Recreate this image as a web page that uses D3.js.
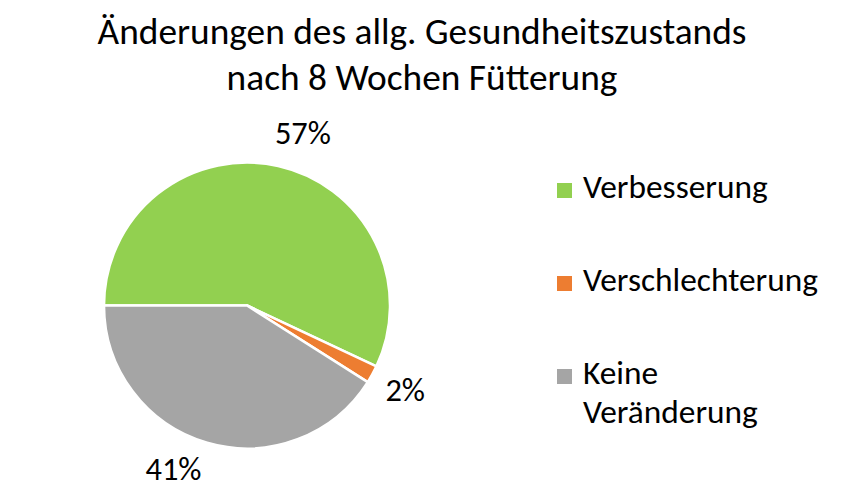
<!DOCTYPE html>
<html>
<head>
<meta charset="utf-8">
<script src="https://cdn.jsdelivr.net/npm/d3@7"></script>
<style>
  html, body { margin: 0; padding: 0; background: #fff; }
  svg { display: block; }
  text { font-family: Calibri, Carlito, Lato, sans-serif; fill: #000; }
</style>
</head>
<body>
<svg id="chart" width="841" height="494"></svg>
<script>
// ---- data ----
const categories = ["Verbesserung", "Verschlechterung", "Keine Veränderung"];
const values = [57, 2, 41];
const legendLines = [["Verbesserung"], ["Verschlechterung"], ["Keine", "Veränderung"]];
const titleLines = ["Änderungen des allg. Gesundheitszustands", "nach 8 Wochen Fütterung"];

// ---- style ----
const colors = ["#92D050", "#ED7D31", "#A5A5A5"];
const labelAngleNudge = [5.5, -0.3, 7.9]; // degrees

const W = 841, H = 494;
const svg = d3.select("#chart");

// fit a font size so that text width matches a target width
function fitSize(str, target) {
  const t = svg.append("text").attr("font-size", 100).text(str);
  const w = t.node().getComputedTextLength();
  t.remove();
  return 100 * target / w;
}

// title
const titleSize = fitSize(titleLines[0], 649);
const title = svg.append("g");
title.selectAll("text").data(titleLines).join("text")
  .attr("x", 422)
  .attr("y", (d, i) => 44 + i * 46)
  .attr("text-anchor", "middle")
  .attr("font-size", titleSize)
  .text(d => d);

// pie
const cx = 247, cy = 305.5, r = 143;
const pie = d3.pie().sort(null).value(d => d)
  .startAngle(-Math.PI / 2).endAngle(1.5 * Math.PI);
const arcs = pie(values);
const arc = d3.arc().innerRadius(0).outerRadius(r);
const g = svg.append("g").attr("transform", `translate(${cx},${cy})`);
g.selectAll("path").data(arcs).join("path")
  .attr("d", arc)
  .attr("fill", (d, i) => colors[i])
  .attr("stroke", "#fff")
  .attr("stroke-width", 2.5)
  .attr("stroke-linejoin", "round");

// data labels
const labelSize = fitSize("57%", 56);
const labelR = r + 37;
g.selectAll("text.lbl").data(arcs).join("text")
  .attr("class", "lbl")
  .attr("text-anchor", "middle")
  .attr("font-size", labelSize)
  .attr("x", (d, i) => {
    const a = (d.startAngle + d.endAngle) / 2 + labelAngleNudge[i] * Math.PI / 180;
    return labelR * Math.sin(a);
  })
  .attr("y", (d, i) => {
    const a = (d.startAngle + d.endAngle) / 2 + labelAngleNudge[i] * Math.PI / 180;
    return -labelR * Math.cos(a) + 10;
  })
  .text(d => d3.format(".0%")(d.value / d3.sum(values)));

// legend
const legSize = fitSize("Verschlechterung", 235);
const leg = svg.append("g").attr("transform", "translate(557,198)");
const item = leg.selectAll("g").data(categories).join("g")
  .attr("transform", (d, i) => `translate(0,${i * 93})`);
item.append("rect")
  .attr("x", 0).attr("y", -15).attr("width", 15).attr("height", 15)
  .attr("fill", (d, i) => colors[i]);
item.each(function(d, i) {
  d3.select(this).selectAll("text").data(legendLines[i]).join("text")
    .attr("x", 26)
    .attr("y", (s, j) => j * 39)
    .attr("font-size", legSize)
    .text(s => s);
});
</script>
</body>
</html>
